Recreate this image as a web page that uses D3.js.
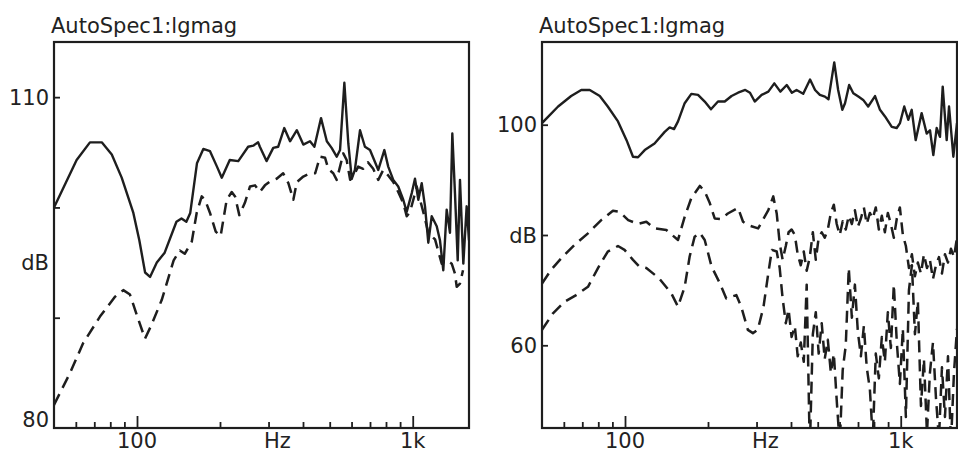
<!DOCTYPE html>
<html lang="en">
<head>
<meta charset="UTF-8">
<title>AutoSpec1:lgmag</title>
<style>
  body { margin: 0; background: #fff; }
  svg { display: block; }
  text { font-family: "DejaVu Sans", sans-serif; font-size: 21px; fill: #222; }
</style>
</head>
<body>
<svg id="svg" width="958" height="453"></svg>

<script src="https://d3js.org/d3.v7.min.js"></script>
<script>
// ---- data: [frequency in Hz, level in dB] ----
const leftSolid = [[50,100.0],[60.4,104.3],[67.5,105.9],[74.5,105.9],[81,104.8],[88,102.7],[97,99.5],[102,97.0],[107,94.1],[111.5,93.7],[118,95.0],[126,95.9],[139,98.7],[145,99.0],[151,98.7],[156,99.5],[165,104.0],[174,105.3],[184,105.1],[195,103.7],[203,102.7],[217,104.3],[233,104.2],[253,105.5],[264,105.6],[275,105.9],[279,105.5],[295,104.2],[312,105.4],[325,105.5],[342,107.2],[359,106.0],[380,107.0],[401,105.7],[424,106.0],[440,105.5],[465,108.1],[488,106.0],[508,105.4],[530,104.6],[545,105.2],[565,111.3],[584,105.8],[601,102.6],[617,103.4],[644,107.0],[671,105.5],[700,105.2],[719,104.5],[750,103.4],[789,105.2],[815,103.7],[850,102.5],[886,101.9],[924,100.7],[951,99.6],[992,101.3],[1019,102.6],[1048,100.7],[1078,102.2],[1108,100.1],[1139,96.8],[1172,99.2],[1222,98.3],[1256,97.0],[1291,94.3],[1328,99.8],[1365,97.7],[1392,106.7],[1423,101.3],[1456,95.2],[1484,102.5],[1526,94.9],[1569,100.1],[1600,97.0]]

const leftDash = [[50,82.1],[57.2,85.0],[63.8,87.7],[73.4,90.1],[83.2,91.9],[89.2,92.5],[94.3,92.1],[100.3,90.1],[106.9,88.1],[112.6,89.3],[122.9,91.6],[135.8,95.2],[143,96.1],[149,95.8],[158,96.9],[164.6,99.5],[171.7,101.0],[176.5,100.7],[184,99.5],[193,97.8],[201,97.4],[211.5,100.7],[220.6,101.4],[226.8,101.0],[235,99.3],[246,100.4],[257,101.9],[268,102.0],[279,101.4],[291,102.0],[302,102.3],[321,102.6],[339,103.1],[354,102.2],[369,100.7],[380,102.3],[401,102.8],[424,103.1],[443,103.1],[461,104.6],[481,104.5],[494,103.5],[515,103.1],[530,102.5],[545,103.7],[560,104.9],[576,104.3],[593,102.5],[609,102.8],[634,103.7],[661,103.5],[688,104.1],[719,103.5],[750,102.5],[782,103.4],[815,102.9],[850,102.3],[886,101.4],[924,100.4],[951,99.2],[978,99.6],[1005,100.7],[1034,101.9],[1063,100.7],[1100,99.3],[1139,97.7],[1205,97.1],[1274,94.9],[1328,95.2],[1385,94.9],[1423,94.0],[1444,92.8],[1484,93.1],[1522,94.3]]

const rightSolid = [[50,100.3],[57.2,103.3],[63.8,105.2],[69.4,106.3],[74.5,106.3],[81,105.2],[86.6,103.3],[94.3,100.6],[101.3,97.2],[106.9,94.2],[111.5,94.1],[117.9,95.4],[128,96.6],[139.3,98.7],[145.2,99.5],[150.6,99.2],[155.7,100.6],[164.6,103.9],[174,105.6],[184,105.4],[194.6,104.2],[205,102.8],[217.4,104.2],[230,104.2],[243.5,105.2],[257,105.8],[273,106.3],[284,105.8],[295.5,104.2],[313,105.4],[331,106.0],[348,107.5],[366,106.0],[386,107.2],[403,105.8],[419,106.3],[443,105.6],[469,108.2],[489,106.3],[509,105.4],[531,105.1],[547,104.6],[574,111.3],[593,106.3],[614,102.7],[628,103.9],[650,107.2],[673,105.7],[702,105.1],[731,104.5],[762,103.3],[807,105.2],[841,102.7],[877,101.5],[928,99.6],[967,99.4],[994,100.3],[1030,103.3],[1065,100.9],[1096,102.7],[1133,97.2],[1191,102.1],[1242,98.4],[1277,99.0],[1313,94.5],[1350,99.4],[1388,97.8],[1420,106.9],[1468,97.2],[1497,103.3],[1552,94.2],[1600,100.3]]

// the two dashed curves of the right plot, smooth part below ~350 Hz
const rightUpperLow = [[50,71.2],[54,73.7],[59.5,76.1],[65.6,78.2],[73.4,80.3],[82,82.7],[90.4,84.4],[95.6,84.2],[102.7,82.7],[111.5,82.0],[119.5,82.4],[128,81.2],[141.2,80.9],[155.7,79.1],[164.6,83.3],[174,86.7],[186.8,88.9],[194.6,87.9],[203,85.8],[211.5,83.0],[223.6,82.9],[236,83.9],[257,84.9],[268,82.4],[279,81.8],[304,81.2],[331,84.5],[345,87.0]]
const rightLowerLow = [[50,62.8],[54.8,65.8],[60.4,67.9],[66.5,69.1],[73.4,70.6],[79.8,74.0],[86.6,77.0],[94.3,78.0],[99.6,77.3],[106.9,75.5],[112.6,74.3],[119.5,74.0],[132.6,72.2],[147.3,69.4],[155.7,67.0],[164.6,70.6],[171.6,76.1],[178.9,79.7],[186.8,80.4],[194.6,79.1],[206,74.3],[220.6,71.3],[233,68.5],[253.3,69.1],[264,67.0],[279,62.8],[291,62.2],[303,62.8],[318,67.0],[331,73.1],[341,77.3]]

// noisy part above ~350 Hz, read at these frequencies
const noiseHz = [355,364,373,383,392,402,413,423,434,445,456,468,480,492,504,517,530,544,558,572,586,601,616,632,648,665,682,699,717,735,753,773,792,812,833,854,876,898,921,944,968,993,1018,1044,1071,1098,1126,1154,1184,1214,1245,1276,1309,1342,1376,1411,1447,1484,1521,1560,1600]
const upperNoiseDb = [83.9,78.5,75.5,78.0,80.5,81.0,80.0,76.5,74.5,77.0,73.5,76.0,80.5,75.5,79.5,80.5,79.5,81.0,84.0,85.5,82.0,80.0,82.5,81.0,83.5,82.0,84.5,81.5,83.0,85.0,82.0,84.0,83.0,85.0,81.0,83.5,80.5,84.0,82.0,79.5,83.0,85.0,80.0,78.0,74.0,76.5,72.5,75.0,73.0,76.5,74.0,75.5,72.0,74.5,76.0,73.0,76.5,75.0,77.5,76.0,79.5]
const lowerNoiseDb = [77.0,74.0,68.5,64.0,66.5,61.5,63.5,58.0,60.5,57.0,71.0,41.0,62.0,66.0,58.5,64.0,57.5,61.0,55.0,58.5,50.0,42.0,55.5,60.0,74.0,65.0,71.0,62.5,58.0,63.5,56.0,52.0,43.0,58.5,54.0,61.5,57.0,66.0,59.5,71.0,60.5,53.0,63.0,47.0,70.0,74.5,62.0,68.0,49.0,57.5,44.0,55.0,60.5,50.5,43.0,56.0,47.0,58.0,42.0,55.0,63.0]

const rightUpper = rightUpperLow.concat(noiseHz.map((f, i) => [f, upperNoiseDb[i]]))
const rightLower = rightLowerLow.concat(noiseHz.map((f, i) => [f, lowerNoiseDb[i]]))

// axes
const freqDomain = [50, 1600]
const xMajor = [100, 1000]
const xMinor = [60, 70, 80, 90, 200, 300, 400, 500, 600, 700, 800, 900]
const xLabels = [[100, "100"], [323, "Hz"], [1000, "1k"]]

const leftDbDomain = [80, 115]
const leftYTicks = [90, 100, 110]
const leftYLabels = [[110, "110"], [95, "dB"], [80, "80"]]

const rightDbDomain = [45, 115]
const rightYTicks = [60, 80, 100]
const rightYLabels = [[100, "100"], [80, "dB"], [60, "60"]]

const title = "AutoSpec1:lgmag"

// ---- drawing ----
const svg = d3.select("#svg")
const plotTop = 42, plotBottom = 428, plotW = 415
const ink = "#1e1e1e"

function panel(id, x0, dbDomain, yTicks, yLabels, series) {
  const x = d3.scaleLog().domain(freqDomain).range([x0, x0 + plotW])
  const y = d3.scaleLinear().domain(dbDomain).range([plotBottom, plotTop])
  const g = svg.append("g")

  g.append("clipPath").attr("id", "clip" + id)
    .append("rect")
    .attr("x", x0).attr("y", plotTop)
    .attr("width", plotW).attr("height", plotBottom - plotTop)

  const line = d3.line().x(d => x(d[0])).y(d => y(d[1]))
  g.append("g").attr("clip-path", `url(#clip${id})`)
    .selectAll("path")
    .data(series)
    .enter()
    .append("path")
    .attr("d", s => line(s.data))
    .attr("fill", "none")
    .attr("stroke", ink)
    .attr("stroke-width", s => s.dash ? 2.5 : 2.4)
    .attr("stroke-linejoin", "round")
    .attr("stroke-dasharray", s => s.dash ? "12,7" : null)

  // inward ticks
  const tickStyle = a => a.call(s => s.select(".domain").remove())
    .call(s => s.selectAll("line").attr("stroke", ink).attr("stroke-width", 1.8))
  g.append("g").attr("transform", `translate(0,${plotBottom})`)
    .call(d3.axisBottom(x).tickValues(xMinor).tickSize(-6).tickFormat(""))
    .call(tickStyle)
  g.append("g").attr("transform", `translate(0,${plotBottom})`)
    .call(d3.axisBottom(x).tickValues(xMajor).tickSize(-12).tickFormat(""))
    .call(tickStyle)
  g.append("g").attr("transform", `translate(${x0},0)`)
    .call(d3.axisLeft(y).tickValues(yTicks).tickSize(-6).tickFormat(""))
    .call(tickStyle)

  g.append("rect")
    .attr("x", x0).attr("y", plotTop)
    .attr("width", plotW).attr("height", plotBottom - plotTop)
    .attr("fill", "none").attr("stroke", ink).attr("stroke-width", 2.2)

  g.selectAll(".xl").data(xLabels).enter().append("text")
    .attr("x", d => x(d[0])).attr("y", 448)
    .attr("text-anchor", "middle")
    .text(d => d[1])

  g.selectAll(".yl").data(yLabels).enter().append("text")
    .attr("x", x0 - 5)
    .attr("y", d => d[0] === dbDomain[0] ? y(d[0]) - 1 : y(d[0]) + 7.5)
    .attr("text-anchor", "end")
    .text(d => d[1])

  g.append("text").attr("x", x0 - 3).attr("y", 33).text(title)
}

panel("L", 54, leftDbDomain, leftYTicks, leftYLabels,
  [{ data: leftSolid, dash: false }, { data: leftDash, dash: true }])
panel("R", 542, rightDbDomain, rightYTicks, rightYLabels,
  [{ data: rightSolid, dash: false }, { data: rightUpper, dash: true }, { data: rightLower, dash: true }])
</script>
</body>
</html>
